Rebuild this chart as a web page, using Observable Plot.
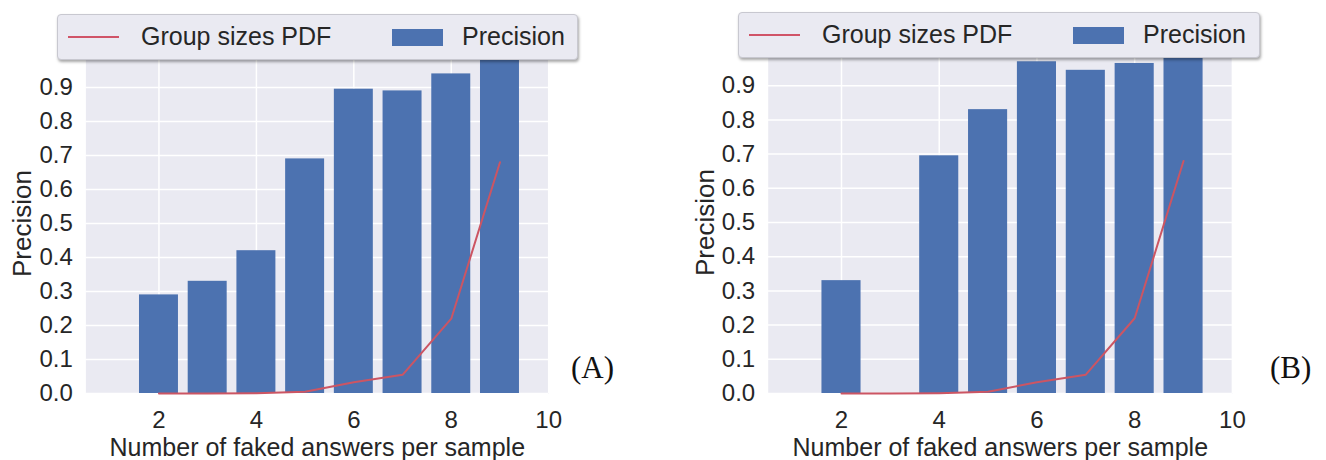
<!DOCTYPE html>
<html><head><meta charset="utf-8">
<script src="https://cdn.jsdelivr.net/npm/d3@7"></script>
<script src="https://cdn.jsdelivr.net/npm/@observablehq/plot@0.6"></script>
<style>
body{margin:0;background:#fff;font-family:"Liberation Sans",Arial,sans-serif;color:#262626;}
#root{position:relative;width:1326px;height:460px;overflow:hidden;background:#fff;}
.panel{position:absolute;top:0;}
.legend{position:absolute;background:#EAEAF2;border:1px solid #c8c8d0;border-radius:4px;box-shadow:1px 2px 3px rgba(0,0,0,0.35);box-sizing:border-box;font-size:25px;color:#262626;}
.legend .ln{position:absolute;height:2px;background:#D05468;}
.legend .pt{position:absolute;background:#4C72B0;}
.legend .tx{position:absolute;white-space:nowrap;line-height:1;}
.tag{position:absolute;font-family:"Liberation Serif","Times New Roman",serif;font-size:31px;color:#111;}
</style></head>
<body><div id="root"></div>
<script>
const sizes = [2, 3, 4, 5, 6, 7, 8, 9];
const precisionA = [0.29, 0.33, 0.42, 0.69, 0.895, 0.89, 0.94, 1.0];
const precisionB = [0.33, null, 0.695, 0.83, 0.97, 0.945, 0.965, 1.0];
const groupPdf = [0.0, 0.0, 0.001, 0.005, 0.033, 0.055, 0.22, 0.68];
const xTicks = [2, 4, 6, 8, 10];
const yTicks = [0, 0.1, 0.2, 0.3, 0.4, 0.5, 0.6, 0.7, 0.8, 0.9];
const xLabel = "Number of faked answers per sample";
const yLabel = "Precision";
const legendLine = "Group sizes PDF";
const legendBar = "Precision";
const tags = ["(A)", "(B)"];

const FONT = '"Liberation Sans", Arial, sans-serif';

function panel(prec, ml, mr, mt) {
  const rows = sizes.map((x, i) => ({x, p: prec[i], pdf: groupPdf[i]}));
  return Plot.plot({
    width: 560, height: 460,
    marginLeft: ml, marginRight: mr, marginTop: mt, marginBottom: 67,
    x: {domain: [0.5, 10], label: null},
    y: {domain: [0, 1.0], label: null},
    style: {fontFamily: FONT, color: "#262626", background: "transparent", overflow: "visible"},
    marks: [
      Plot.frame({fill: "#EAEAF2", stroke: null}),
      Plot.gridX(xTicks, {stroke: "white", strokeOpacity: 1, strokeWidth: 1.5}),
      Plot.gridY(yTicks, {stroke: "white", strokeOpacity: 1, strokeWidth: 1.5}),
      Plot.rectY(rows.filter(d => d.p != null), {x1: d => d.x - 0.4, x2: d => d.x + 0.4, y: "p", fill: "#4C72B0"}),
      Plot.lineY(rows, {x: "x", y: "pdf", stroke: "#CC5563", strokeWidth: 2}),
      Plot.axisX(xTicks, {tickSize: 0, tickPadding: 17, fontSize: 24, label: null}),
      Plot.axisY(yTicks, {tickSize: 0, tickPadding: 13, fontSize: 24, tickFormat: d3.format(".1f"), label: null}),
      Plot.text([xLabel], {frameAnchor: "bottom", dy: 45, lineAnchor: "top", textAnchor: "middle", fontSize: 25, fill: "#262626"}),
      Plot.text([yLabel], {frameAnchor: "left", dx: -63, rotate: -90, textAnchor: "middle", fontSize: 26, fill: "#262626"})
    ]
  });
}

const root = document.getElementById("root");

function place(el, left) {
  const d = document.createElement("div");
  d.className = "panel";
  d.style.left = left + "px";
  d.appendChild(el);
  root.appendChild(d);
}

place(panel(precisionA, 85.4, 560 - 548.2, 53), 0);
place(panel(precisionB, 767.7 - 680, 560 - 551.9, 51), 680);

function legend(left, top, width, height) {
  const L = document.createElement("div");
  L.className = "legend";
  Object.assign(L.style, {left: left + "px", top: top + "px", width: width + "px", height: height + "px"});
  const mid = height / 2 - 1;
  L.innerHTML =
    `<div class="ln" style="left:10px;width:51px;top:${mid - 1}px"></div>` +
    `<div class="tx" style="left:83px;top:${mid - 13}px">${legendLine}</div>` +
    `<div class="pt" style="left:334px;width:51px;top:${mid - 8}px;height:17px"></div>` +
    `<div class="tx" style="left:404px;top:${mid - 13}px">${legendBar}</div>`;
  root.appendChild(L);
}
legend(57, 14, 521, 46);
legend(738, 12, 522, 46);

function tag(text, left, top) {
  const t = document.createElement("div");
  t.className = "tag";
  t.textContent = text;
  t.style.left = left + "px";
  t.style.top = top + "px";
  root.appendChild(t);
}
tag(tags[0], 571, 350);
tag(tags[1], 1270, 350);
</script>
</body></html>
